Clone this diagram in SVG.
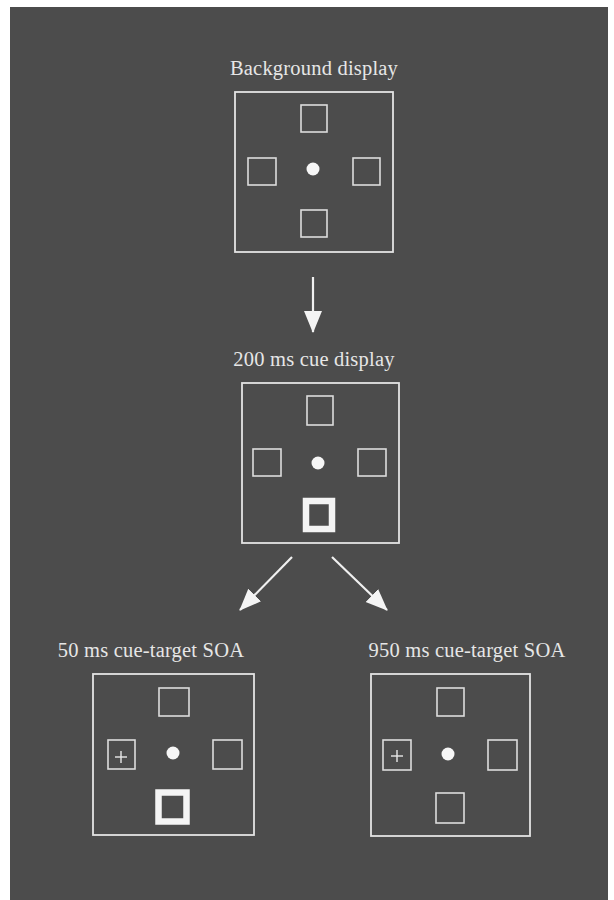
<svg xmlns="http://www.w3.org/2000/svg" width="614" height="900" viewBox="0 0 614 900">
<defs>
<style>
.frame{fill:none;stroke:#e4e4e4;stroke-width:1.8}
.box{fill:none;stroke:#dcdcdc;stroke-width:1.6}
.cue{fill:none;stroke:#f4f4f4;stroke-width:6.5}
.dot{fill:#f6f6f6}
.plus{stroke:#e8e8e8;stroke-width:1.4}
.lbl{font-family:"Liberation Serif","Times New Roman",serif;font-size:20.5px;fill:#e6e6e6;text-anchor:middle;letter-spacing:0.2px}
.conn{stroke:#f0f0f0;stroke-width:2.2;fill:none}
</style>
<marker id="ah" markerUnits="userSpaceOnUse" markerWidth="22" markerHeight="20" viewBox="0 0 22 20" refX="21" refY="10" orient="auto">
<path d="M0,1 L22,10 L0,19 Z" fill="#f4f4f4"/>
</marker>
</defs>
<rect x="0" y="0" width="614" height="900" fill="#ffffff"/>
<rect x="10" y="7" width="598" height="893" fill="#4c4c4c"/>

<g id="background-display">
<text class="lbl" x="314" y="75">Background display</text>
<rect class="frame" x="235" y="92" width="158" height="160"/>
<rect class="box" x="301" y="105" width="26" height="27"/>
<rect class="box" x="248" y="158" width="28" height="27"/>
<rect class="box" x="353" y="158" width="27" height="27"/>
<rect class="box" x="301" y="210" width="26" height="27"/>
<circle class="dot" cx="313" cy="169" r="6.5"/>
</g>

<g id="cue-display">
<text class="lbl" x="314" y="366">200 ms cue display</text>
<rect class="frame" x="242" y="383" width="157" height="160"/>
<rect class="box" x="307" y="396" width="26" height="29"/>
<rect class="box" x="253" y="449" width="28" height="27"/>
<rect class="box" x="358" y="449" width="28" height="27"/>
<circle class="dot" cx="318" cy="463" r="6.5"/>
<rect class="cue" x="306" y="501" width="26" height="28"/>
</g>

<g id="soa-50">
<text class="lbl" x="151" y="657">50 ms cue-target SOA</text>
<rect class="frame" x="93" y="674" width="161" height="161"/>
<rect class="box" x="159" y="688" width="30" height="28"/>
<rect class="box" x="108" y="740" width="27" height="29"/>
<line class="plus" x1="115" y1="757" x2="127" y2="757"/>
<line class="plus" x1="121" y1="751" x2="121" y2="763"/>
<rect class="box" x="213" y="740" width="29" height="29"/>
<circle class="dot" cx="173" cy="753" r="6.5"/>
<rect class="cue" x="158.5" y="792.5" width="28" height="29"/>
</g>

<g id="soa-950">
<text class="lbl" x="467" y="657">950 ms cue-target SOA</text>
<rect class="frame" x="371" y="674" width="159" height="162"/>
<rect class="box" x="437" y="688" width="27" height="28"/>
<rect class="box" x="383" y="740" width="28" height="30"/>
<line class="plus" x1="391" y1="756" x2="403" y2="756"/>
<line class="plus" x1="397" y1="750" x2="397" y2="762"/>
<rect class="box" x="488" y="740" width="29" height="30"/>
<circle class="dot" cx="448" cy="754" r="6.5"/>
<rect class="box" x="436" y="793" width="28" height="30"/>
</g>

<g id="connectors">
<line class="conn" x1="313" y1="277" x2="313" y2="332" marker-end="url(#ah)"/>
<line class="conn" x1="292" y1="557" x2="240" y2="610" marker-end="url(#ah)"/>
<line class="conn" x1="332" y1="557" x2="387" y2="610" marker-end="url(#ah)"/>
</g>
</svg>
